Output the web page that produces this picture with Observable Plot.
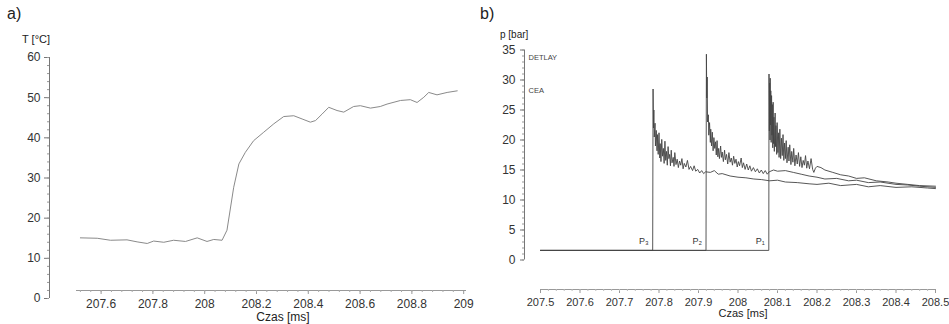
<!DOCTYPE html>
<html>
<head>
<meta charset="utf-8">
<script src="https://cdn.jsdelivr.net/npm/d3@7"></script>
<script src="https://cdn.jsdelivr.net/npm/@observablehq/plot@0.6"></script>
<style>
  body { margin: 0; background: #fff; font-family: "Liberation Sans", Arial, sans-serif; }
  #wrap { position: relative; width: 949px; height: 324px; overflow: hidden; }
  #panelA, #panelB { position: absolute; top: 0; }
  .lbl { position: absolute; color: #222; white-space: nowrap; line-height: 1; }
  .ctr { transform: translateX(-50%); }
</style>
</head>
<body>
<div id="wrap">
  <div id="panelA" style="left:0"></div>
  <div id="panelB" style="left:480px"></div>
  <div class="lbl" style="left:7px;top:6px;font-size:16px">a)</div>
  <div class="lbl" style="left:22px;top:34px;font-size:11px">T [°C]</div>
  <div class="lbl ctr" style="left:283px;top:311px;font-size:12px">Czas [ms]</div>
  <div class="lbl" style="left:480px;top:6px;font-size:16px">b)</div>
  <div class="lbl" style="left:500px;top:30px;font-size:10px">p [bar]</div>
  <div class="lbl ctr" style="left:743px;top:308px;font-size:11px">Czas [ms]</div>
</div>
<script>
// (a) temperature history
const tempSeries = [
  [207.520, 15.1], [207.585, 15.0], [207.636, 14.5], [207.700, 14.6], [207.739, 14.1],
  [207.778, 13.7], [207.803, 14.3], [207.842, 14.0], [207.880, 14.5], [207.926, 14.2],
  [207.971, 15.1], [208.009, 14.2], [208.035, 14.7], [208.067, 14.5], [208.086, 17.0],
  [208.112, 27.7], [208.132, 33.5], [208.157, 36.4], [208.189, 39.3], [208.228, 41.4],
  [208.267, 43.5], [208.305, 45.3], [208.344, 45.5], [208.376, 44.7], [208.408, 43.9],
  [208.428, 44.3], [208.453, 45.9], [208.479, 47.6], [208.511, 46.8], [208.537, 46.4],
  [208.575, 47.8], [208.601, 48.0], [208.640, 47.4], [208.678, 47.8], [208.704, 48.4],
  [208.756, 49.3], [208.794, 49.5], [208.820, 48.8], [208.846, 50.1], [208.865, 51.3],
  [208.897, 50.7], [208.936, 51.3], [208.975, 51.7]
];
const tempTicks = [0, 10, 20, 30, 40, 50, 60];
const timeTicksA = [207.6, 207.8, 208, 208.2, 208.4, 208.6, 208.8, 209];

// (b) pressure histories of the three probes
const traceP3 = [
  [207.5, 1.6], [207.784, 1.6], [207.785, 28.5], [207.786, 22.0], [207.787, 25.0],
  [207.788, 20.5], [207.790, 22.8], [207.791, 19.0], [207.793, 21.6], [207.795, 18.2],
  [207.796, 20.9], [207.798, 17.6], [207.800, 21.2], [207.802, 17.0], [207.803, 19.4],
  [207.805, 16.4], [207.807, 20.1], [207.809, 17.3], [207.811, 18.6], [207.813, 16.1],
  [207.815, 19.8], [207.817, 16.6], [207.819, 18.1], [207.821, 15.8], [207.823, 18.9],
  [207.825, 16.9], [207.827, 17.6], [207.829, 15.7], [207.831, 18.3], [207.833, 16.2],
  [207.836, 17.1], [207.838, 15.6], [207.840, 17.9], [207.843, 15.9], [207.846, 16.8],
  [207.849, 15.4], [207.852, 16.5], [207.855, 15.8], [207.858, 16.9], [207.861, 15.2],
  [207.864, 16.1], [207.868, 15.5], [207.872, 16.6], [207.876, 15.1], [207.880, 15.6],
  [207.885, 14.9], [207.889, 15.7], [207.893, 14.8], [207.898, 15.1], [207.903, 14.5],
  [207.908, 14.9], [207.913, 14.4], [207.918, 14.7], [207.930, 14.6], [207.940, 14.9],
  [207.950, 14.3], [207.960, 14.4], [207.980, 14.0], [208.000, 13.8], [208.020, 13.7],
  [208.040, 13.5], [208.060, 13.4], [208.080, 13.2], [208.100, 13.3], [208.120, 13.0],
  [208.150, 12.9], [208.180, 12.7], [208.200, 12.6], [208.230, 12.8], [208.260, 12.4],
  [208.300, 12.6], [208.330, 12.2], [208.360, 12.4], [208.400, 12.1], [208.440, 12.2],
  [208.480, 12.0], [208.500, 11.9]
];
const traceP2 = [
  [207.5, 1.6], [207.919, 1.6], [207.920, 34.3], [207.921, 27.0], [207.922, 30.5],
  [207.923, 23.0], [207.925, 24.2], [207.926, 20.8], [207.928, 22.9], [207.930, 19.6],
  [207.931, 21.8], [207.933, 19.0], [207.935, 21.3], [207.937, 18.2], [207.939, 20.4],
  [207.941, 18.6], [207.943, 19.7], [207.945, 17.5], [207.947, 19.9], [207.949, 17.2],
  [207.951, 18.6], [207.953, 16.9], [207.956, 19.0], [207.958, 17.1], [207.960, 18.0],
  [207.963, 16.4], [207.966, 18.3], [207.968, 16.7], [207.971, 17.6], [207.974, 16.0],
  [207.977, 17.9], [207.980, 16.3], [207.983, 17.0], [207.986, 15.8], [207.989, 17.3],
  [207.992, 16.1], [207.995, 16.8], [207.998, 15.5], [208.001, 16.4], [208.004, 15.7],
  [208.008, 17.0], [208.011, 15.4], [208.014, 16.2], [208.018, 15.1], [208.022, 16.0],
  [208.026, 15.0], [208.030, 15.7], [208.034, 14.8], [208.039, 15.4], [208.044, 14.7],
  [208.049, 15.2], [208.054, 14.5], [208.059, 15.0], [208.064, 14.4], [208.069, 14.9],
  [208.074, 14.3], [208.079, 14.7], [208.090, 15.0], [208.100, 14.8], [208.120, 14.9],
  [208.140, 14.6], [208.160, 14.3], [208.180, 14.0], [208.200, 13.8], [208.220, 13.5],
  [208.250, 13.6], [208.280, 13.2], [208.300, 13.3], [208.330, 12.9], [208.360, 13.0],
  [208.400, 12.6], [208.430, 12.5], [208.460, 12.3], [208.500, 12.1]
];
const traceP1 = [
  [207.5, 1.6], [208.078, 1.6], [208.0785, 31.0], [208.0795, 21.5], [208.080, 29.5],
  [208.081, 20.0], [208.0815, 30.3], [208.082, 22.5], [208.083, 28.2], [208.084, 19.6],
  [208.085, 27.4], [208.086, 20.8], [208.087, 25.9], [208.088, 18.7], [208.089, 26.3],
  [208.090, 19.4], [208.091, 23.8], [208.092, 18.1], [208.094, 24.5], [208.095, 18.9],
  [208.096, 22.4], [208.098, 17.6], [208.099, 22.9], [208.101, 17.9], [208.103, 21.2],
  [208.104, 17.1], [208.106, 21.8], [208.108, 16.9], [208.110, 20.3], [208.112, 17.4],
  [208.114, 20.9], [208.116, 16.6], [208.118, 19.5], [208.120, 16.9], [208.122, 19.9],
  [208.124, 16.2], [208.127, 18.8], [208.129, 16.5], [208.131, 19.2], [208.134, 15.9],
  [208.136, 18.1], [208.139, 16.3], [208.141, 18.6], [208.144, 15.7], [208.147, 17.5],
  [208.150, 16.0], [208.153, 17.9], [208.156, 15.6], [208.159, 17.2], [208.162, 15.4],
  [208.165, 16.6], [208.168, 15.8], [208.171, 17.4], [208.174, 15.3], [208.177, 16.5],
  [208.181, 15.2], [208.185, 16.9], [208.189, 15.1], [208.192, 14.6], [208.196, 15.3],
  [208.200, 15.6], [208.210, 15.4], [208.220, 15.0], [208.240, 14.6], [208.260, 14.2],
  [208.280, 14.0], [208.300, 13.6], [208.320, 13.7], [208.350, 13.2], [208.380, 13.0],
  [208.400, 12.8], [208.430, 12.6], [208.460, 12.4], [208.500, 12.3]
];
const pressTicks = [0, 5, 10, 15, 20, 25, 30, 35];
const timeTicksB = [207.5, 207.6, 207.7, 207.8, 207.9, 208, 208.1, 208.2, 208.3, 208.4, 208.5];
const refNames = ["DETLAY", "CEA"];
const refValues = [33.7, 28.2];
const probeNames = ["P₃", "P₂", "P₁"];
const probeTimes = [207.784, 207.919, 208.078];

const fmt = d => String(+d.toFixed(1));
const font = "Liberation Sans, Arial, sans-serif";

const plotA = Plot.plot({
  width: 480, height: 324,
  marginLeft: 76, marginRight: 15, marginTop: 57, marginBottom: 34,
  style: { fontFamily: font, fontSize: "12px", color: "#333", background: "transparent" },
  x: { domain: [207.505, 209.007] },
  y: { domain: [0, 60], range: [298, 57] },
  marks: [
    Plot.ruleX([207.505], { y1: 0, y2: 60, dx: -27, stroke: "#777" }),
    Plot.axisY({ ticks: tempTicks, tickSize: 5, dx: -27, tickFormat: fmt, label: null, stroke: "#777" }),
    Plot.axisY({ ticks: d3.range(0, 61, 2), tickSize: 2, dx: -27, text: null, label: null, stroke: "#999" }),
    Plot.frame({ anchor: "bottom", stroke: "#999" }),
    Plot.axisX({ ticks: timeTicksA, tickSize: 4, tickFormat: fmt, label: null, stroke: "#999" }),
    Plot.axisX({ ticks: d3.range(207.52, 209.0, 0.04), tickSize: 2, text: null, label: null, stroke: "#aaa" }),
    Plot.line(tempSeries, { x: d => d[0], y: d => d[1], stroke: "#8a8a8a", strokeWidth: 1 })
  ]
});
document.getElementById("panelA").append(plotA);

const traces = [traceP3, traceP2, traceP1];
const plotB = Plot.plot({
  width: 469, height: 324,
  marginLeft: 60, marginRight: 14, marginTop: 49, marginBottom: 35,
  style: { fontFamily: font, fontSize: "11px", color: "#333", background: "transparent" },
  x: { domain: [207.5, 208.5] },
  y: { domain: [0, 35], range: [259.5, 49.5] },
  marks: [
    Plot.ruleX([207.5], { y1: 0, y2: 35, dx: -16, stroke: "#777" }),
    Plot.axisY({ ticks: pressTicks, tickSize: 4, dx: -16, fontSize: 12, tickFormat: fmt, label: null, stroke: "#777" }),
    Plot.axisY({ ticks: d3.range(0, 36, 1), tickSize: 2, dx: -16, text: null, label: null, stroke: "#999" }),
    Plot.frame({ anchor: "bottom", stroke: "#999" }),
    Plot.axisX({ ticks: timeTicksB, tickSize: 4, tickFormat: fmt, label: null, stroke: "#999" }),
    Plot.axisX({ ticks: d3.range(207.52, 208.5, 0.02), tickSize: 2, text: null, label: null, stroke: "#bbb" }),
    ...traces.map(tr => Plot.line(tr, { x: d => d[0], y: d => d[1], stroke: "#444", strokeWidth: 0.9 })),
    Plot.text(refNames, { x: 207.5, y: (d, i) => refValues[i], text: d => d, dx: -12, textAnchor: "start", fontSize: 7.5, fill: "#444" }),
    Plot.text(probeNames, { x: (d, i) => probeTimes[i], y: 3.1, text: d => d, dx: -4, textAnchor: "end", fontSize: 9, fill: "#333" })
  ]
});
document.getElementById("panelB").append(plotB);
</script>
</body>
</html>
